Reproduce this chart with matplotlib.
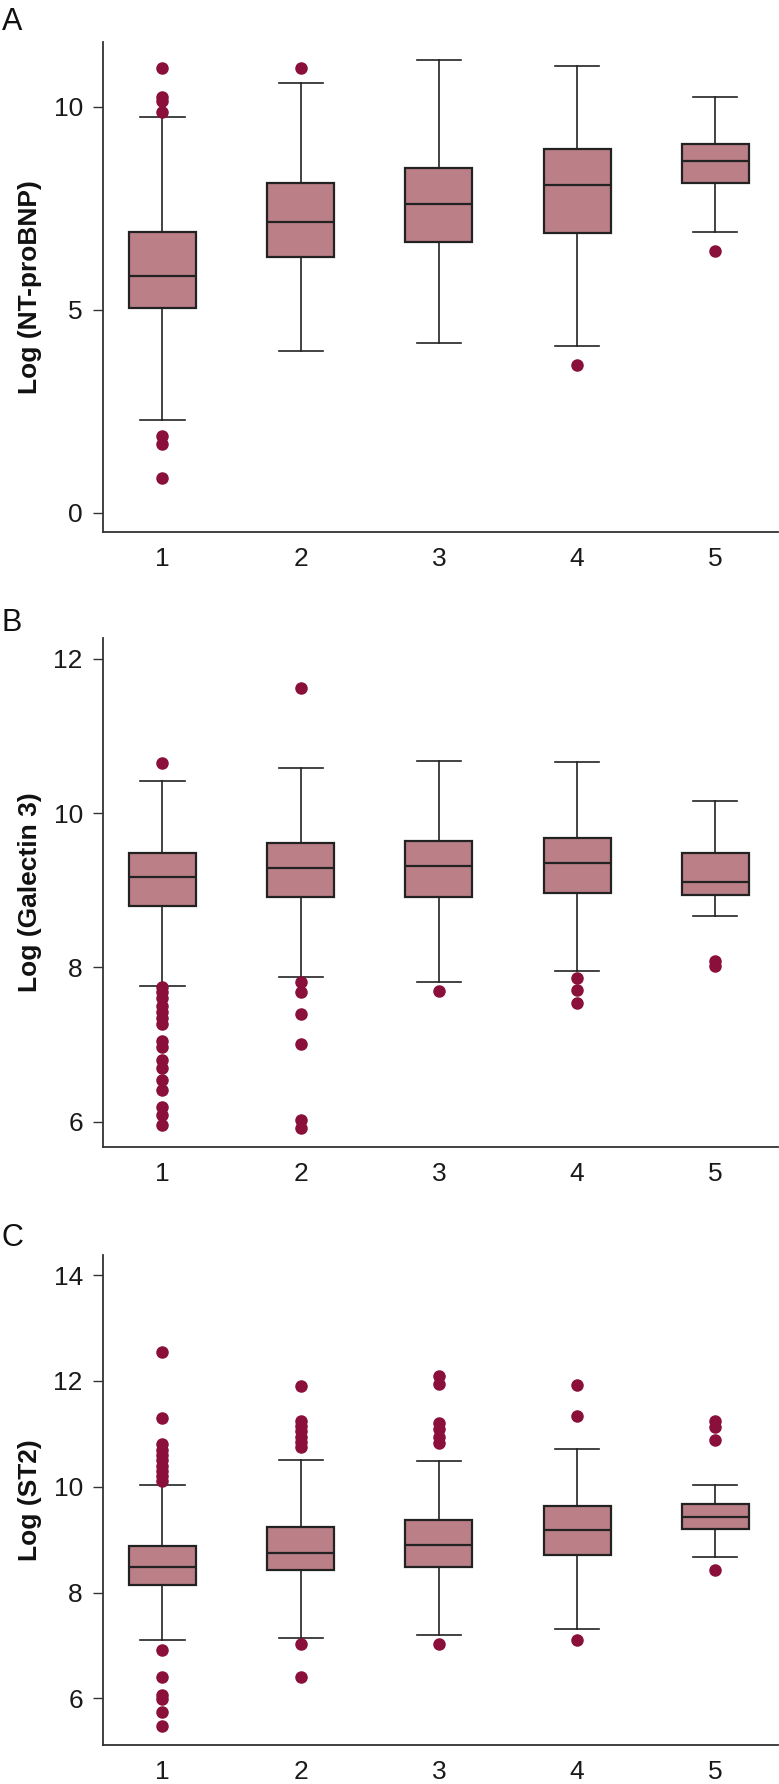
import matplotlib
matplotlib.use("Agg")
import matplotlib.pyplot as plt

# ---------------- data ----------------
groups = [1, 2, 3, 4, 5]

# Panel A: Log (NT-proBNP)
a_q1 = [5.04, 6.30, 6.67, 6.89, 8.13]
a_med = [5.84, 7.16, 7.60, 8.08, 8.68]
a_q3 = [6.92, 8.12, 8.50, 8.97, 9.09]
a_lo = [2.29, 3.99, 4.18, 4.10, 6.91]
a_hi = [9.76, 10.58, 11.15, 11.00, 10.25]
a_fliers = [
    [10.95, 10.24, 10.14, 9.88, 1.89, 1.70, 0.85],
    [10.95],
    [],
    [3.65],
    [6.45],
]

# Panel B: Log (Galectin 3)
b_q1 = [8.80, 8.91, 8.91, 8.97, 8.94]
b_med = [9.17, 9.29, 9.32, 9.35, 9.10]
b_q3 = [9.48, 9.61, 9.64, 9.68, 9.48]
b_lo = [7.76, 7.88, 7.81, 7.95, 8.67]
b_hi = [10.41, 10.58, 10.68, 10.66, 10.15]
b_fliers = [
    [10.65, 7.75, 7.68, 7.60, 7.50, 7.42, 7.34, 7.26, 7.04, 6.97,
     6.80, 6.70, 6.54, 6.41, 6.19, 6.09, 5.96],
    [11.62, 7.81, 7.68, 7.39, 7.00, 6.02, 5.91],
    [7.69],
    [7.86, 7.71, 7.54],
    [8.08, 8.02],
]

# Panel C: Log (ST2)
c_q1 = [8.15, 8.42, 8.48, 8.71, 9.20]
c_med = [8.49, 8.75, 8.90, 9.18, 9.42]
c_q3 = [8.89, 9.24, 9.38, 9.63, 9.67]
c_lo = [7.10, 7.15, 7.19, 7.31, 8.68]
c_hi = [10.03, 10.51, 10.48, 10.72, 10.04]
c_fliers = [
    [12.54, 11.30, 10.80, 10.70, 10.60, 10.50, 10.40, 10.30, 10.20, 10.10,
     6.92, 6.41, 6.07, 5.99, 5.74, 5.48],
    [11.90, 11.25, 11.15, 11.05, 10.95, 10.85, 10.75, 7.02, 6.41],
    [12.10, 11.94, 11.20, 11.10, 10.95, 10.82, 7.03],
    [11.92, 11.34, 7.10],
    [11.25, 11.13, 10.89, 8.42],
]

panels = [
    ("A", "Log (NT-proBNP)", a_q1, a_med, a_q3, a_lo, a_hi, a_fliers,
     [0, 5, 10], (-0.47, 11.6)),
    ("B", "Log (Galectin 3)", b_q1, b_med, b_q3, b_lo, b_hi, b_fliers,
     [6, 8, 10, 12], (5.67, 12.27)),
    ("C", "Log (ST2)", c_q1, c_med, c_q3, c_lo, c_hi, c_fliers,
     [6, 8, 10, 12, 14], (5.12, 14.38)),
]

# ---------------- style ----------------
BOX_FILL = "#BB7F88"
EDGE = "#222222"
FLIER = "#8A0F3B"
TICK_FONT = ["Liberation Sans", "DejaVu Sans"]
LABEL_FONT = ["Liberation Sans", "DejaVu Sans"]

W, H = 779, 1784
fig = plt.figure(figsize=(W / 100, H / 100), dpi=100)

# axes boxes in pixels: (top, bottom)
ax_px = [(42, 532), (638, 1147), (1255, 1745)]
letter_baseline = [29.5, 630.6, 1246.5]
left_px = 103

for (letter, ylabel, q1, med, q3, lo, hi, fl, yt, ylim), (top, bot), lb in zip(
        panels, ax_px, letter_baseline):
    ax = fig.add_axes([left_px / W, 1 - bot / H, 1 - left_px / W - 0.001,
                       (bot - top) / H])
    stats = []
    for i in range(len(groups)):
        stats.append(dict(med=med[i], q1=q1[i], q3=q3[i], whislo=lo[i],
                          whishi=hi[i], fliers=fl[i], label=str(groups[i])))
    ax.bxp(stats, positions=groups, widths=0.485, capwidths=0.32,
           patch_artist=True, showfliers=True,
           boxprops=dict(facecolor=BOX_FILL, edgecolor=EDGE, linewidth=1.6),
           medianprops=dict(color=EDGE, linewidth=1.6),
           whiskerprops=dict(color=EDGE, linewidth=1.2),
           capprops=dict(color=EDGE, linewidth=1.2),
           flierprops=dict(marker="o", markerfacecolor=FLIER,
                           markeredgecolor=FLIER, markersize=8, linestyle="none"))
    ax.set_xlim(0.57, 5.455)
    ax.set_ylim(*ylim)
    ax.set_yticks(yt)
    ax.set_yticklabels([str(v) for v in yt])
    ax.set_xticks(groups)
    ax.set_xticklabels([str(g) for g in groups])
    for s in ("top", "right"):
        ax.spines[s].set_visible(False)
    for s in ("left", "bottom"):
        ax.spines[s].set_color("#333333")
        ax.spines[s].set_linewidth(1.3)
    ax.tick_params(axis="y", length=7, width=1.0, color="#333333", pad=7.5)
    ax.tick_params(axis="x", length=0, pad=10.5)
    for t in ax.get_xticklabels() + ax.get_yticklabels():
        t.set_fontfamily(TICK_FONT)
        t.set_fontsize(19)
        t.set_color("#1a1a1a")
    ax.set_ylabel(ylabel, fontsize=19, fontweight="bold", family=LABEL_FONT,
                  color="#111111")
    ax.yaxis.set_label_coords((42 - left_px) / (W - left_px), 0.5)
    fig.text(0.002, 1 - lb / H, letter, fontsize=22, family=TICK_FONT,
             va="baseline", ha="left", color="#111111")

fig.savefig("out.png", dpi=100)
